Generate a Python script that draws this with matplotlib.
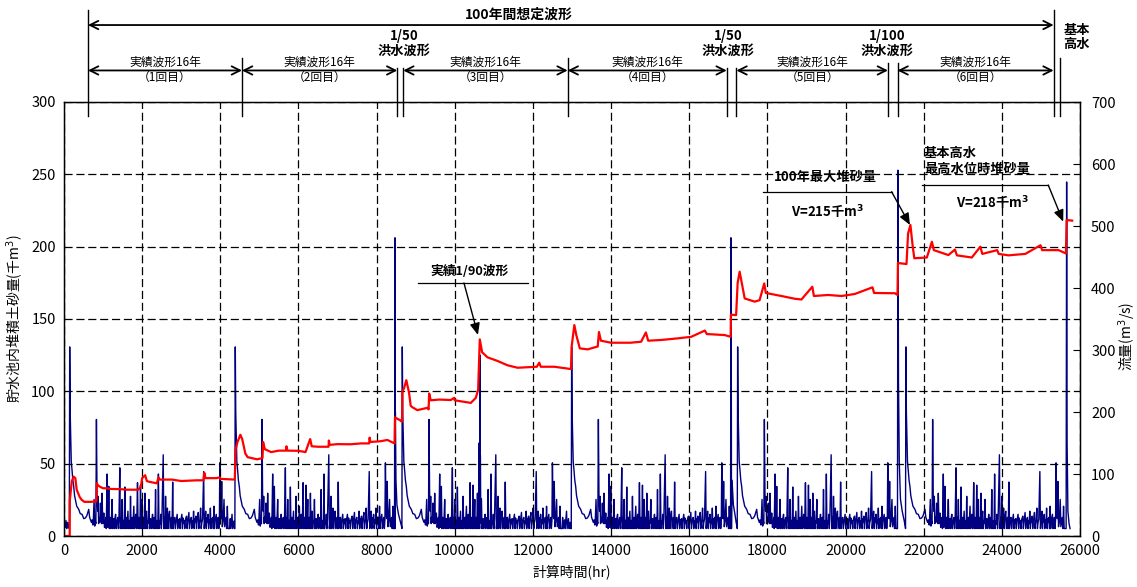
import numpy as np
import matplotlib
matplotlib.use("Agg")
import matplotlib.pyplot as plt

plt.rcParams['font.family'] = ['Noto Sans CJK JP', 'DejaVu Sans']
plt.rcParams['mathtext.fontset'] = 'dejavusans'

# 実績波形16年: flow pattern, hr offset from the first peak of each block / m3/s
real_off = [-10, 0, 12, 25, 40, 60, 80, 103, 125, 145, 180, 231, 270, 316, 360, 402, 440, 487, 510, 540,
            573, 600, 624, 640, 670, 684, 700, 715, 727, 745, 765, 786, 800, 815, 829, 845, 872, 890, 915, 935,
            957, 970, 1000, 1015, 1040, 1055, 1085, 1100, 1130, 1145, 1175, 1190, 1230, 1245, 1282, 1295, 1320, 1330, 1342, 1355,
            1380, 1395, 1410, 1425, 1450, 1465, 1490, 1505, 1530, 1542, 1556, 1570, 1600, 1615, 1641, 1655, 1690, 1705, 1735, 1750,
            1775, 1790, 1812, 1825, 1855, 1868, 1895, 1908, 1923, 1938, 1965, 1980, 2026, 2040, 2070, 2085, 2120, 2135, 2170, 2182,
            2197, 2210, 2235, 2248, 2270, 2285, 2330, 2345, 2393, 2408, 2430, 2440, 2453, 2468, 2500, 2515, 2555, 2570, 2600, 2612,
            2635, 2650, 2690, 2705, 2750, 2765, 2810, 2825, 2870, 2885, 2930, 2945, 2990, 3005, 3050, 3065, 3110, 3125, 3170, 3185,
            3230, 3245, 3290, 3305, 3350, 3365, 3428, 3442, 3480, 3495, 3540, 3555, 3600, 3615, 3660, 3675, 3692, 3705, 3750, 3765,
            3800, 3815, 3842, 3860, 3889, 3905, 3949, 3965, 4000, 4015, 4034, 4050, 4090]
real_q = [12, 305, 200, 165, 120, 106, 90, 80, 65, 59, 48, 43, 36, 35, 28, 29, 33, 43, 30, 25,
          26, 18, 59, 16, 20, 188, 60, 40, 64, 30, 22, 53, 25, 20, 69, 20, 37, 14, 25, 12,
          100, 14, 80, 12, 30, 12, 59, 12, 28, 12, 35, 12, 30, 12, 110, 12, 30, 12, 59, 12,
          25, 12, 79, 12, 30, 12, 40, 12, 25, 12, 64, 12, 30, 12, 48, 12, 35, 12, 86, 12,
          30, 12, 82, 12, 59, 12, 30, 12, 69, 12, 40, 12, 59, 12, 28, 12, 35, 12, 30, 12,
          75, 12, 25, 12, 100, 12, 35, 12, 131, 12, 30, 12, 64, 12, 45, 12, 40, 12, 30, 12,
          87, 12, 30, 12, 35, 12, 28, 12, 35, 12, 25, 12, 32, 12, 38, 12, 30, 12, 40, 12,
          32, 12, 38, 12, 45, 12, 104, 12, 40, 12, 35, 12, 45, 12, 30, 12, 48, 12, 35, 12,
          30, 12, 118, 35, 88, 15, 59, 15, 30, 12, 48, 12, 12]
# small flood peaks of the same record
minor_off = [555, 590, 655, 740, 775, 858, 905, 925, 985, 1030, 1065, 1115, 1160, 1205, 1260, 1310, 1368, 1440, 1478, 1518,
             1585, 1628, 1672, 1718, 1760, 1800, 1840, 1882, 1950, 1995, 2010, 2055, 2098, 2150, 2220, 2258, 2300, 2318, 2360, 2420,
             2485, 2530, 2585, 2622, 2670, 2720, 2780, 2795, 2840, 2900, 2915, 2960, 3020, 3035, 3080, 3095, 3140, 3155, 3200, 3215,
             3260, 3275, 3320, 3335, 3380, 3400, 3460, 3510, 3525, 3570, 3585, 3630, 3645, 3720, 3735, 3780, 3830, 3875, 3925, 3980,
             4025]
minor_q = [22, 18, 24, 20, 28, 24, 18, 30, 22, 26, 20, 24, 30, 22, 27, 20, 25, 22, 28, 19,
           24, 32, 22, 26, 20, 25, 28, 22, 30, 24, 21, 26, 23, 29, 20, 27, 24, 19, 28, 22,
           26, 30, 21, 25, 28, 22, 26, 20, 24, 29, 21, 26, 23, 30, 22, 27, 24, 20, 28, 23,
           25, 30, 22, 26, 21, 27, 24, 29, 22, 26, 20, 28, 23, 25, 30, 22, 26, 28, 24, 22,
           26]
block_peak_hr = [146, 4383, 8657, 12991, 17239, 21545]

# other flow pieces (hr, m3/s)
lead_hr = [0, 10, 30, 50, 70, 90, 110, 130]
lead_q = [12, 20, 14, 25, 12, 22, 15, 13]
gap_hr = [4255, 4270, 4300, 4315, 4345, 4360, 12760, 12775, 12810, 12825, 12860, 12875, 12910, 12925, 12950, 12965]
gap_q = [28, 12, 35, 12, 24, 12, 30, 12, 26, 12, 40, 12, 28, 12, 22, 12]
w90_hr = [10620, 10641, 10655, 10680]          # 実績1/90波形
w90_q = [150, 292, 130, 60]
f50a_hr = [8458, 8470, 8480, 8495, 8520, 8560, 8600, 8640]
f50a_q = [12, 481, 200, 90, 50, 35, 25, 15]
f50b_hr = [17058, 17067, 17078, 17095, 17130, 17170, 17200, 17225]
f50b_q = [12, 481, 200, 90, 50, 35, 22, 15]
f100_hr = [21325, 21341, 21355, 21375, 21405, 21450, 21500, 21530]
f100_q = [12, 590, 250, 120, 60, 40, 25, 15]
kihon_hr = [25645, 25658, 25670, 25690, 25720, 25745]
kihon_q = [12, 571, 150, 40, 20, 12]

# 堆積土砂量 (hr, 千m3)
sed_hr = [0, 146, 150, 200, 250, 290, 325, 400, 453, 520, 700, 830,
          840, 870, 923, 1000, 1100, 1200, 1436, 1600, 1900, 1966, 2000, 2077, 2120, 2162, 2376, 2418, 2450, 2760,
          3000, 3400, 3570, 3590, 3620, 3900, 3985, 4000, 4370,
          4393, 4440, 4513, 4560, 4641, 4700, 4940, 5080, 5095, 5140, 5300, 5500, 5680, 5692, 5720, 6000, 6180,
          6300, 6340, 6500, 6770, 6778, 6800, 7000, 7333, 7600, 7810, 7821, 7840, 8100, 8274, 8460,
          8470, 8600, 8650,
          8660, 8700, 8760, 8830, 8872, 8915, 9043, 9299, 9330, 9345, 9385, 9600, 9900, 9983, 10000, 10410,
          10538, 10598, 10640, 10700, 10838, 11094, 11350, 11607, 12100, 12162, 12200, 12547, 12974,
          12991, 13060, 13110, 13200, 13400, 13658, 13690, 13740, 14000, 14500, 14769, 14890, 14950, 15282,
          15700, 16051, 16400, 16450, 16906, 17060,
          17067, 17200,
          17239, 17290, 17420, 17675, 17800, 17920, 17960, 18359, 18700, 18872, 19150, 19190, 19556, 19897,
          20239, 20690, 20730, 21265, 21330,
          21341, 21560,
          21600, 21660, 21720, 21760, 22080, 22210, 22260, 22632, 22800, 22850, 23231, 23450, 23500, 23880,
          23920, 24171, 24600, 24990, 25030, 25453, 25640,
          25658, 25800]
sed_v = [0, 0, 25, 38, 41, 40, 32, 27, 25, 23.6, 23.6, 24,
         36.5, 35, 34, 33, 33, 32.5, 32.4, 32, 32, 34, 40, 42, 38, 37.6, 36.4, 40.5, 39, 39,
         38, 38.5, 38.5, 43.7, 40, 40, 40.5, 39.5, 39,
         60, 65, 70, 67, 57, 54.5, 53, 53.9, 65, 60, 58, 59, 59, 62, 59, 58.9, 58,
         67, 62, 61.7, 61.7, 66, 63, 63.5, 63.4, 64, 64, 68, 65, 65.5, 66.4, 64,
         82, 80, 79,
         100, 102, 107.7, 99, 90, 89, 87, 88.6, 87.5, 98.5, 93.8, 94.3, 94, 95.5, 93.8, 92,
         95.5, 101, 135.9, 127, 123.5, 121, 118, 116.3, 117, 119.8, 117, 117, 115.4,
         131, 145.8, 138.9, 129.7, 129, 131, 141, 135, 133.6, 133.6, 134.3, 140.7, 135, 135.5,
         136.6, 137.7, 142, 139.6, 138.9, 137.7,
         153, 152.7,
         175, 182.7, 164.2, 162, 163, 174.6, 168, 165.9, 164, 163.5, 172.3, 165.9, 166.6, 165.9,
         167.3, 171.9, 168, 167.8, 166.6,
         188.7, 188,
         209, 215, 200, 192, 192.5, 203.4, 197.6, 194.2, 198, 194, 192.5, 200, 195, 197.6,
         195, 194, 195, 201, 197.6, 197.6, 195.3,
         218.4, 218]

# build the flow series from its pieces
flow_hr = list(lead_hr)
flow_q = list(lead_q)
for s in block_peak_hr:
    flow_hr += [s + o for o in real_off] + [s + o for o in minor_off]
    flow_q += list(real_q) + list(minor_q)
for h, q in [(gap_hr, gap_q), (w90_hr, w90_q), (f50a_hr, f50a_q), (f50b_hr, f50b_q),
             (f100_hr, f100_q), (kihon_hr, kihon_q)]:
    flow_hr += h
    flow_q += q
order = np.argsort(flow_hr, kind='stable')
flow_hr = np.array(flow_hr)[order]
flow_q = np.array(flow_q)[order]

fig = plt.figure(figsize=(11.37, 5.87), dpi=100)
ax = fig.add_axes([64 / 1137, 51 / 587, 1016 / 1137, 434 / 587])
ax2 = ax.twinx()
ax.set_zorder(2)
ax2.set_zorder(1)
ax.patch.set_visible(False)

ax2.plot(flow_hr, flow_q, color='#000080', lw=1.0)
ax.plot(sed_hr, sed_v, color='#ff0000', lw=1.6)

ax.set_xlim(0, 26000)
ax.set_ylim(0, 300)
ax2.set_ylim(0, 700)
ax.set_xticks(range(0, 26001, 2000))
ax.set_yticks(range(0, 301, 50))
ax2.set_yticks(range(0, 701, 100))
ax.grid(True, color='k', linestyle=(0, (6.5, 3)), lw=0.9)
ax.tick_params(axis='both', length=0, labelsize=10.5, pad=6)
ax2.tick_params(axis='y', direction='in', length=5, labelsize=10.5, pad=8)
for sp in ax.spines.values():
    sp.set_linewidth(1.0)

ax.set_xlabel('計算時間(hr)', fontsize=10)
ax.set_ylabel('貯水池内堆積土砂量(千m$^3$)', fontsize=10, labelpad=4)
ax2.set_ylabel('流量(m$^3$/s)', fontsize=10)
ax2.yaxis.set_label_coords(1.036, 0.46)

# ---- period marks above the plot ----
def vline(x, y0, y1):
    ax.plot([x, x], [y0, y1], color='k', lw=1.0, clip_on=False)

def span(x0, x1, y):
    ax.annotate('', xy=(x0, y), xytext=(x1, y), annotation_clip=False,
                arrowprops=dict(arrowstyle='<->,head_length=0.6,head_width=0.3', lw=1.3, color='k',
                                shrinkA=0, shrinkB=0))

vline(614, 290.3, 363.6)
vline(25325, 290.3, 363.6)
for x in [4555, 12889, 25486]:
    vline(x, 290.3, 330.4)
for x in [8529, 8682]:
    vline(x, 290.3, 323.5)
for x in [16960, 17208]:
    vline(x, 290.3, 323.5)
for x in [21085, 21330]:
    vline(x, 290.3, 327.0)

span(614, 25325, 353.2)
ax.text(11643, 360.1, '100年間想定波形', ha='center', va='center', fontsize=10, fontweight='bold')

seg_x = [(614, 4555), (4555, 8529), (8682, 12889), (12889, 16960), (17208, 21085), (21330, 25325)]
for i, (a, b) in enumerate(seg_x):
    span(a, b, 321.8)
    ax.text((a + b) / 2, 327.6, '実績波形16年', ha='center', va='center', fontsize=8.5)
    ax.text((a + b) / 2, 316.9, '（%d回目）' % (i + 1), ha='center', va='center', fontsize=8.5)

for x, lab in [(8700, '1/50'), (16990, '1/50'), (21060, '1/100')]:
    ax.text(x, 345.6, lab, ha='center', va='center', fontsize=9.5, fontweight='bold')
    ax.text(x, 335.2, '洪水波形', ha='center', va='center', fontsize=9.5, fontweight='bold')
ax.text(25921, 349.8, '基本', ha='center', va='center', fontsize=9.5, fontweight='bold')
ax.text(25921, 340.4, '高水', ha='center', va='center', fontsize=9.5, fontweight='bold')

# ---- callouts inside the plot ----
head = dict(arrowstyle='-|>,head_length=0.7,head_width=0.3', lw=1.0, color='k', shrinkA=0, shrinkB=0)

ax.text(10389, 182.5, '実績1/90波形', ha='center', va='center', fontsize=9.2, fontweight='bold')
ax.plot([9058, 11873], [174.9, 174.9], color='k', lw=0.9)
ax.annotate('', xy=(10593, 139), xytext=(10235, 174.9), arrowprops=head)

ax.text(19473, 248.4, '100年最大堆砂量', ha='center', va='center', fontsize=9.5, fontweight='bold')
ax.text(19550, 225.3, 'V=215千m$^\\mathbf{3}$', ha='center', va='center', fontsize=9.5, fontweight='bold')
ax.plot([17878, 21178], [238, 238], color='k', lw=0.9)
ax.annotate('', xy=(21648, 215), xytext=(21178, 238), arrowprops=head)

ax.text(22006, 264.7, '基本高水', ha='left', va='center', fontsize=9.5, fontweight='bold')
ax.text(22006, 253.7, '最高水位時堆砂量', ha='left', va='center', fontsize=9.5, fontweight='bold')
ax.text(23759, 231, 'V=218千m$^\\mathbf{3}$', ha='center', va='center', fontsize=9.5, fontweight='bold')
ax.plot([21946, 25187], [242.6, 242.6], color='k', lw=0.9)
ax.annotate('', xy=(25570, 217.3), xytext=(25187, 242.6), arrowprops=head)

fig.savefig('out.png', dpi=100)
